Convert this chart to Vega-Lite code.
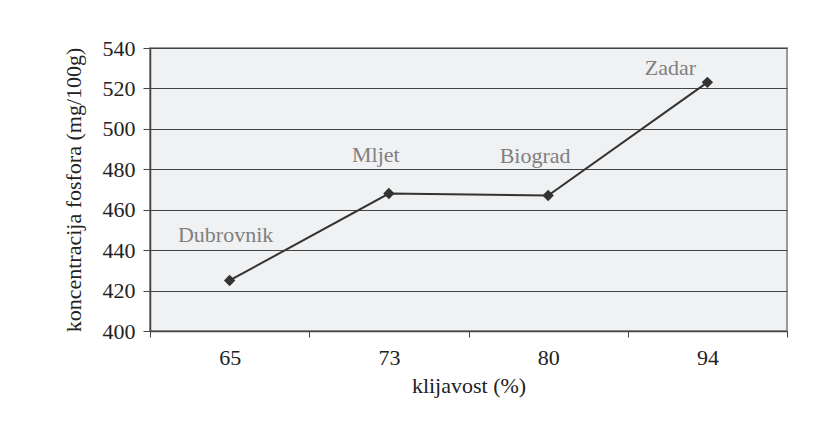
{
  "$schema": "https://vega.github.io/schema/vega-lite/v6.json",
  "autosize": {"type": "none"},
  "padding": {"left": 150, "top": 48, "right": 39, "bottom": 96},
  "width": 637,
  "height": 283,
  "background": "white",
  "config": {
    "font": "Liberation Serif",
    "view": {"fill": "#f0f1f3", "stroke": "#9a9a9a", "strokeWidth": 2}
  },
  "data": {"values": [
    {"klijavost": "65", "fosfor": 425, "mjesto": "Dubrovnik"},
    {"klijavost": "73", "fosfor": 468, "mjesto": "Mljet"},
    {"klijavost": "80", "fosfor": 467, "mjesto": "Biograd"},
    {"klijavost": "94", "fosfor": 523, "mjesto": "Zadar"}
  ]},
  "encoding": {
    "x": {"field": "klijavost", "type": "ordinal", "sort": null,
      "scale": {"paddingInner": 0, "paddingOuter": 0},
      "axis": {"title": "klijavost (%)", "titleFont": "Liberation Serif", "titleFontSize": 22, "titleFontWeight": "normal", "titleColor": "#222", "titlePadding": 7,
        "labelFont": "Liberation Serif", "labelFontSize": 22, "labelColor": "#222", "labelAngle": 0, "labelPadding": 10,
        "tickBand": "extent", "tickColor": "#444", "tickSize": 6, "domainColor": "#444", "domainWidth": 1.5, "grid": false}},
    "y": {"field": "fosfor", "type": "quantitative",
      "scale": {"domain": [400, 540], "nice": false, "zero": false},
      "axis": {"title": "koncentracija fosfora (mg/100g)", "titleFont": "Liberation Serif", "titleFontSize": 22, "titleFontWeight": "normal", "titleColor": "#222", "titlePadding": 17,
        "values": [400, 420, 440, 460, 480, 500, 520, 540],
        "labelFont": "Liberation Serif", "labelFontSize": 22, "labelColor": "#222", "labelPadding": 8,
        "tickColor": "#444", "tickSize": 7, "domainColor": "#444", "domainWidth": 1.5,
        "grid": true, "gridColor": "#444", "gridWidth": 1, "gridOpacity": 1}}
  },
  "layer": [
    {"mark": {"type": "line", "color": "#333", "strokeWidth": 2}},
    {"mark": {"type": "point", "shape": "diamond", "filled": true, "color": "#333", "size": 130, "opacity": 1}},
    {"transform": [{"filter": "datum.mjesto === 'Dubrovnik'"}],
      "mark": {"type": "text", "color": "#808080", "fontSize": 22, "font": "Liberation Serif", "dx": -4, "dy": -45},
      "encoding": {"text": {"field": "mjesto"}}},
    {"transform": [{"filter": "datum.mjesto === 'Mljet'"}],
      "mark": {"type": "text", "color": "#808080", "fontSize": 22, "font": "Liberation Serif", "dx": -13, "dy": -39},
      "encoding": {"text": {"field": "mjesto"}}},
    {"transform": [{"filter": "datum.mjesto === 'Biograd'"}],
      "mark": {"type": "text", "color": "#808080", "fontSize": 22, "font": "Liberation Serif", "dx": -13, "dy": -40},
      "encoding": {"text": {"field": "mjesto"}}},
    {"transform": [{"filter": "datum.mjesto === 'Zadar'"}],
      "mark": {"type": "text", "color": "#808080", "fontSize": 22, "font": "Liberation Serif", "dx": -37, "dy": -14},
      "encoding": {"text": {"field": "mjesto"}}}
  ]
}
